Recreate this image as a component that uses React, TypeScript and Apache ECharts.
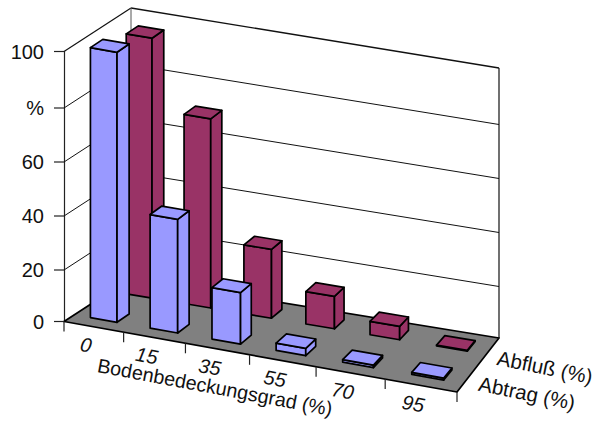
import React, { useEffect, useRef } from "react";
import * as echarts from "echarts";

// Chart data
const categories = ["0", "15", "35", "55", "70", "95"];
const abtrag = [100, 43, 20, 2.9, 1, 0.8];
const abfluss = [96.5, 71, 26.4, 12.8, 5.3, 0.3];
const rowNames = ["Abfluß (%)", "Abtrag (%)"];
const axisTitle = "Bodenbedeckungsgrad (%)";
const valueTicks = ["0", "20", "40", "60", "%", "100"];
const scaleValues = [0, 20, 40, 60, 80, 100];

// Plot frame: the value scale runs up the front-left edge
const FRAME = { left: 64, top: 51.5, width: 393, height: 270 };
// Floor corners on screen: front-left, front-right, back-right, back-left
const P00 = [64, 321.5];
const P10 = [457, 392];
const P11 = [499, 338];
const P01 = [131, 278];

const det = (a: number[], b: number[]) => a[0] * b[1] - a[1] * b[0];
const dx1 = [P10[0] - P11[0], P10[1] - P11[1]];
const dx2 = [P01[0] - P11[0], P01[1] - P11[1]];
const sum = [P00[0] - P10[0] + P11[0] - P01[0], P00[1] - P10[1] + P11[1] - P01[1]];
const G = det(sum, dx2) / det(dx1, dx2);
const H = det(dx1, sum) / det(dx1, dx2);

// Perspective mapping of the unit floor square (u along categories, d into depth)
function floorPoint(u: number, d: number): number[] {
  const w = 1 + G * u + H * d;
  const x = P00[0] + (P10[0] * (1 + G) - P00[0]) * u + (P01[0] * (1 + H) - P00[0]) * d;
  const y = P00[1] + (P10[1] * (1 + G) - P00[1]) * u + (P01[1] * (1 + H) - P00[1]) * d;
  return [x / w, y / w];
}

// The drawing's vertical scale sags a little between its end points
const sag = (v: number) => 2.5 * Math.min(1, v / 15, (100 - v) / 15);

// Scene point from data coordinates, passing through the chart's own scales
function project(api: any, cat: number, d: number, value: number): number[] {
  const p = api.coord([cat, value]);
  const zero = api.coord([cat, 0]);
  const u = (p[0] - FRAME.left) / FRAME.width;
  const f = floorPoint(u, d);
  return [f[0], f[1] - (zero[1] - p[1]) + sag(value)];
}

const EDGE = "#000000";
const BLUE = "#9999ff";
const WINE = "#993366";
const FLOOR = "#808080";
const INK = "#111111";
const FONT = '"Liberation Sans", Arial, sans-serif';

function poly(points: number[][], fill: string) {
  return {
    type: "polygon",
    shape: { points },
    style: { fill, stroke: EDGE, lineWidth: 1.7, lineJoin: "round" },
  };
}

function line(a: number[], b: number[], width: number, color = INK) {
  return {
    type: "line",
    shape: { x1: a[0], y1: a[1], x2: b[0], y2: b[1] },
    style: { stroke: color, lineWidth: width, fill: "none" },
  };
}

function barRenderer(dNear: number, dFar: number, fill: string) {
  const inset = 0.275;
  return (_params: any, api: any) => {
    const c = api.value(0);
    const v = api.value(1);
    const a = c + inset;
    const b = c + 1 - inset;
    const fl0 = project(api, a, dNear, 0);
    const fr0 = project(api, b, dNear, 0);
    const br0 = project(api, b, dFar, 0);
    const flT = project(api, a, dNear, v);
    const frT = project(api, b, dNear, v);
    const brT = project(api, b, dFar, v);
    const blT = project(api, a, dFar, v);
    return {
      type: "group",
      children: [
        poly([fl0, fr0, frT, flT], fill),
        poly([fr0, br0, brT, frT], fill),
        poly([flT, frT, brT, blT], fill),
      ],
    };
  };
}

const option: any = {
  animation: false,
  backgroundColor: "#ffffff",
  grid: { ...FRAME, containLabel: false },
  xAxis: { type: "value", min: 0, max: categories.length, show: false },
  yAxis: {
    type: "value",
    min: 0,
    max: 100,
    interval: 20,
    splitLine: { show: false },
    axisLine: { show: true, lineStyle: { color: "#222222", width: 1.2 } },
    axisTick: { show: false },
    axisLabel: { show: false },
  },
  graphic: [
    {
      type: "text",
      x: 215,
      y: 387,
      rotation: -0.185,
      style: { text: axisTitle, font: `19.7px ${FONT}`, fill: INK, align: "center", verticalAlign: "middle" },
    },
    {
      type: "text",
      x: 545,
      y: 367,
      rotation: -0.2,
      style: { text: rowNames[0], font: `20.5px ${FONT}`, fill: INK, align: "center", verticalAlign: "middle" },
    },
    {
      type: "text",
      x: 527,
      y: 393,
      rotation: -0.2,
      style: { text: rowNames[1], font: `20.5px ${FONT}`, fill: INK, align: "center", verticalAlign: "middle" },
    },
  ],
  series: [
    {
      // Floor and wall outlines
      name: "Wände",
      type: "custom",
      silent: true,
      data: [[0, 100]],
      encode: { x: 0, y: 1 },
      renderItem: (_p: any, api: any) => {
        const n = categories.length;
        const topLeft = project(api, 0, 1, 100);
        const topRight = project(api, n, 1, 100);
        const baseRight = project(api, n, 1, 0);
        const baseLeft = project(api, 0, 1, 0);
        const front = project(api, 0, 0, 100);
        return {
          type: "group",
          children: [
            poly([project(api, 0, 0, 0), project(api, n, 0, 0), baseRight, baseLeft], FLOOR),
            line(front, topLeft, 1.2),
            line(topLeft, topRight, 1.4),
            line(topRight, baseRight, 1.2),
            line(topLeft, baseLeft, 1, "#555555"),
          ],
        };
      },
    },
    {
      // Value scale: ticks and labels at the left, gridlines on both walls
      name: "Skala",
      type: "custom",
      silent: true,
      data: scaleValues.map((v) => [0, v]),
      encode: { x: 0, y: 1 },
      renderItem: (p: any, api: any) => {
        const v = api.value(1);
        const n = categories.length;
        const a = project(api, 0, 0, v);
        const children: any[] = [
          line([a[0] - 10, a[1]], a, 1.2, "#222222"),
          {
            type: "text",
            x: a[0] - 20,
            y: a[1],
            style: {
              text: valueTicks[p.dataIndex],
              font: `20px ${FONT}`,
              fill: INK,
              align: "right",
              verticalAlign: "middle",
            },
          },
        ];
        if (v > 0 && v < 100) {
          const b = project(api, 0, 1, v);
          children.push(line(a, b, 1), line(b, project(api, n, 1, v), 1));
        }
        return { type: "group", children };
      },
    },
    {
      // Category ticks and labels along the front edge
      name: "Kategorien",
      type: "custom",
      silent: true,
      data: [...categories.map((_, i) => [i, 0]), [categories.length, 0]],
      encode: { x: 0, y: 1 },
      renderItem: (_p: any, api: any) => {
        const i = api.value(0);
        const t = project(api, i, 0, 0);
        const children: any[] = [line(t, [t[0], t[1] + 10], 1.2, "#222222")];
        if (i < categories.length) {
          const m = project(api, i + 0.5, 0, 0);
          children.push({
            type: "text",
            x: m[0] - 7.5,
            y: m[1] + 18,
            rotation: -0.18,
            style: {
              text: categories[i],
              font: `italic 20px ${FONT}`,
              fill: INK,
              align: "center",
              verticalAlign: "middle",
            },
          });
        }
        return { type: "group", children };
      },
    },
    {
      name: "Abfluß (%)",
      type: "custom",
      data: abfluss.map((v, i) => [i, v]),
      encode: { x: 0, y: 1 },
      renderItem: barRenderer(0.68, 0.87, WINE),
    },
    {
      name: "Abtrag (%)",
      type: "custom",
      data: abtrag.map((v, i) => [i, v]),
      encode: { x: 0, y: 1 },
      renderItem: barRenderer(0.145, 0.325, BLUE),
    },
  ],
};

export default function App() {
  const ref = useRef<HTMLDivElement>(null);
  useEffect(() => {
    const chart = echarts.init(ref.current!, undefined, { renderer: "svg" });
    chart.setOption(option);
    return () => chart.dispose();
  }, []);
  return <div ref={ref} style={{ position: "absolute", left: 0, top: 0, width: 599, height: 421 }} />;
}
